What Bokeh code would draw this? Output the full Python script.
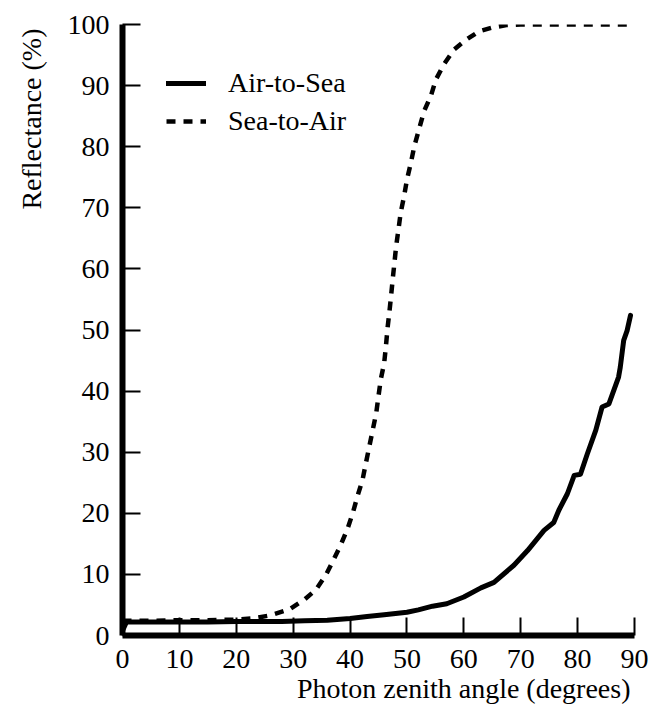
from bokeh.plotting import figure
from bokeh.models import Range1d, Legend, LegendItem, FixedTicker, Title
from bokeh.embed import file_html
from bokeh.resources import INLINE

# Reflectance of a flat sea surface versus photon zenith angle
angle_air = [0, 0.7, 5, 10, 15, 20, 25, 28, 32, 36, 40, 43, 46, 50, 52, 54.5, 57,
             60, 63, 65.3, 68.8, 71.2, 74.1, 75.8, 76.7, 78.2, 79.4, 80.5, 81.7,
             83.2, 84.3, 85.5, 87.2, 87.5, 88.1, 88.7, 89.3]
refl_air = [0.8, 2.2, 2.2, 2.2, 2.2, 2.3, 2.3, 2.3, 2.4, 2.5, 2.8, 3.1, 3.4, 3.8,
            4.2, 4.8, 5.2, 6.3, 7.8, 8.7, 11.5, 13.9, 17.2, 18.5, 20.5, 23.2, 26.2,
            26.4, 29.7, 33.6, 37.4, 37.9, 42.3, 43.9, 48.3, 49.9, 52.4]

angle_sea = [0, 5, 10, 15, 20, 23, 26, 29.4, 32, 34, 35.8, 37.1, 38.4, 39.6, 40.5,
             41.3, 42.2, 42.8, 43.4, 44.0, 44.6, 45.0, 45.4, 46.0, 46.3, 46.6, 46.9,
             47.2, 47.5, 47.8, 48.1, 48.5, 48.9, 49.5, 50.0, 50.7, 51.3, 52.2, 53.0,
             54.2, 55.1, 56.5, 58.3, 60.4, 62.7, 65, 67.5, 70, 80, 89.3]
refl_sea = [2.4, 2.4, 2.5, 2.5, 2.6, 2.8, 3.3, 4.3, 5.9, 7.5, 10.0, 12.4, 14.9, 17.6,
            20.1, 22.8, 25.5, 28.3, 31.0, 33.7, 36.4, 39.2, 41.9, 44.6, 47.3, 50.4,
            52.8, 55.5, 58.3, 61.0, 63.7, 66.4, 69.2, 71.9, 74.6, 77.4, 80.1, 83.1,
            85.8, 88.3, 91.0, 93.5, 95.9, 97.5, 98.9, 99.5, 99.9, 100, 100, 100]

x_ticks = [0, 10, 20, 30, 40, 50, 60, 70, 80, 90]
y_ticks = [0, 10, 20, 30, 40, 50, 60, 70, 80, 90, 100]

FONT = "Liberation Serif"
FS = "28px"

p = figure(width=651, height=712, output_backend="svg", toolbar_location=None,
           x_range=Range1d(0, 90), y_range=Range1d(0, 100),
           min_border_left=121, min_border_right=17,
           min_border_top=24, min_border_bottom=77)
p.outline_line_color = None
p.grid.visible = False
p.background_fill_color = "white"
p.border_fill_color = "white"

for ax, ticks in ((p.xaxis[0], x_ticks), (p.yaxis[0], y_ticks)):
    ax.ticker = FixedTicker(ticks=ticks)
    ax.axis_line_width = 6
    ax.axis_line_color = "black"
    ax.major_tick_in = 18
    ax.major_tick_out = 0
    ax.major_tick_line_width = 2
    ax.major_tick_line_color = "black"
    ax.minor_tick_line_color = None
    ax.major_label_text_font = FONT
    ax.major_label_text_font_size = FS
    ax.major_label_text_color = "black"
    ax.axis_label = None

p.xaxis[0].major_label_standoff = 14
p.yaxis[0].major_label_standoff = 13

r_air = p.line(angle_air, refl_air, line_width=5, line_color="black",
               line_join="round", line_cap="round")
r_sea = p.line(angle_sea, refl_sea, line_width=4.5, line_color="black",
               line_dash="9 8")

legend = Legend(items=[LegendItem(label="Air-to-Sea", renderers=[r_air]),
                       LegendItem(label="Sea-to-Air", renderers=[r_sea])],
                location=(44, 498), padding=0, margin=0, spacing=6,
                glyph_width=40, glyph_height=32, label_height=32,
                label_standoff=22, label_text_font=FONT,
                label_text_font_size=FS, label_text_color="black",
                border_line_color=None, background_fill_alpha=0)
p.add_layout(legend)

# Axis titles sit at the far ends of their axes
p.add_layout(Title(text="Photon zenith angle (degrees)", align="right",
                   text_font=FONT, text_font_size=FS, text_font_style="normal",
                   text_color="black", standoff=0, offset=4), "below")
p.add_layout(Title(text="Reflectance (%)", align="right", vertical_align="top",
                   text_font=FONT, text_font_size=FS, text_font_style="normal",
                   text_color="black", standoff=31, offset=4), "left")

open("out.html", "w").write(file_html(p, INLINE))
